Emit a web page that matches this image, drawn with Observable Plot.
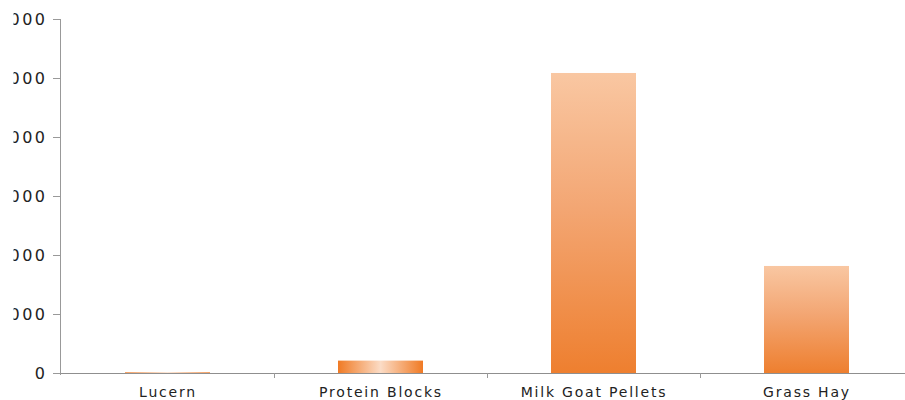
<!DOCTYPE html>
<html>
<head>
<meta charset="utf-8">
<script src="https://cdn.jsdelivr.net/npm/d3@7"></script>
<script src="https://cdn.jsdelivr.net/npm/@observablehq/plot@0.6"></script>
<style>
  html, body { margin: 0; padding: 0; background: #fff; overflow: hidden; width: 905px; height: 400px; }
  #chart { width: 905px; height: 400px; overflow: hidden; }
  #chart svg { max-width: none !important; }
</style>
</head>
<body>
<div id="chart"></div>
<script>
const categories = ["Lucern", "Protein Blocks", "Milk Goat Pellets", "Grass Hay"];
const values = [12, 210, 5085, 1814];
const yTicks = [0, 1000, 2000, 3000, 4000, 5000, 6000];

const data = categories.map((c, i) => ({cat: c, v: values[i]}));

const chart = Plot.plot({
  width: 918,
  height: 400,
  marginLeft: 60,
  marginRight: 3,
  marginTop: 19,
  marginBottom: 27,
  style: {fontFamily: "DejaVu Sans", fontSize: "14px", color: "#222", background: "white"},
  x: {domain: categories, paddingInner: 0.6, paddingOuter: 0.3, label: null},
  y: {domain: [0, 6000], label: null},
  color: {type: "identity"},
  marks: [
    Plot.barY(data, {x: "cat", y: "v", fill: d => d.v < 1000 ? "url(#gradH)" : "url(#gradV)"}),
    Plot.ruleY([0], {stroke: "#8f8f8f", strokeWidth: 1}),
    Plot.axisY(yTicks, {tickSize: 7, tickPadding: 6, tickFormat: d => String(d), label: null, color: "#999"}),
    Plot.axisX({tickSize: 0, tickPadding: 14, label: null, color: "#222"})
  ]
});

chart.style.maxWidth = "none";
document.getElementById("chart").appendChild(chart);
const svg = d3.select(chart);

// gradients
const defs = svg.insert("defs", ":first-child");
const gV = defs.append("linearGradient").attr("id", "gradV").attr("x1", 0).attr("y1", 0).attr("x2", 0).attr("y2", 1);
gV.append("stop").attr("offset", "0").attr("stop-color", "#f9c7a2");
gV.append("stop").attr("offset", "0.45").attr("stop-color", "#f3a673");
gV.append("stop").attr("offset", "1").attr("stop-color", "#ee7f2f");
const gH = defs.append("linearGradient").attr("id", "gradH").attr("x1", 0).attr("y1", 0).attr("x2", 1).attr("y2", 0);
gH.append("stop").attr("offset", "0").attr("stop-color", "#f07a24");
gH.append("stop").attr("offset", "0.5").attr("stop-color", "#fbdcc6");
gH.append("stop").attr("offset", "1").attr("stop-color", "#f07a24");
const clip = defs.append("clipPath").attr("id", "yclip");
clip.append("rect").attr("x", 13.5).attr("y", 0).attr("width", 200).attr("height", 400);

// y tick labels: dark text, wide digits, clipped at the left edge like the reference
const yLab = svg.select('g[aria-label="y-axis tick label"]');
yLab.attr("fill", "#222").attr("font-size", 16).style("font-size", "16px").style("letter-spacing", "2.5px");
const wrap = document.createElementNS("http://www.w3.org/2000/svg", "g");
wrap.setAttribute("clip-path", "url(#yclip)");
yLab.node().parentNode.insertBefore(wrap, yLab.node());
wrap.appendChild(yLab.node());

svg.select('g[aria-label="x-axis tick label"]').style("font-size", "14px");
svg.selectAll('g[aria-label="x-axis tick label"] text').style("letter-spacing", "1.8px");

// y axis line and category boundary ticks from Plot's scales
const xs = chart.scale("x");
const ys = chart.scale("y");
const y0 = ys.apply(0);
svg.append("line")
  .attr("x1", xs.range[0] + 0.5).attr("x2", xs.range[0] + 0.5)
  .attr("y1", ys.apply(6000)).attr("y2", y0 + 2)
  .attr("stroke", "#999");
categories.slice(1).forEach(c => {
  const bx = Math.round(xs.apply(c) - (xs.step - xs.bandwidth) / 2) + 0.5;
  svg.append("line")
    .attr("x1", bx).attr("x2", bx)
    .attr("y1", y0).attr("y2", y0 + 5)
    .attr("stroke", "#999");
});
</script>
</body>
</html>
